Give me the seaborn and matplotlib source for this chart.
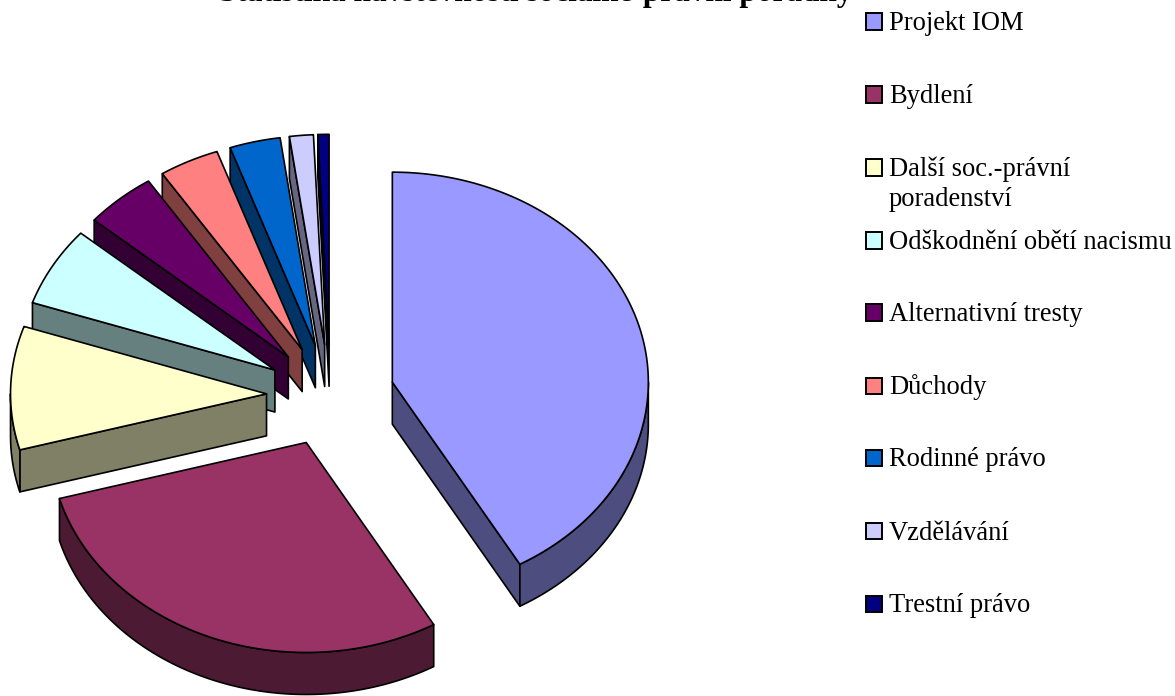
import numpy as np
import matplotlib
matplotlib.use("Agg")
import matplotlib.pyplot as plt
from matplotlib.patches import Polygon, Rectangle
import seaborn as sns

# Data (percent shares)
categories = ["Projekt IOM", "Bydlení", "Další soc.-právní\nporadenství",
              "Odškodnění obětí nacismu", "Alternativní tresty", "Důchody",
              "Rodinné právo", "Vzdělávání", "Trestní právo"]
shares = [41.7, 29.0, 9.5, 6.1, 4.5, 3.8, 3.2, 1.5, 0.7]
top_colors = ["#9999FF", "#993366", "#FFFFCC", "#CCFFFF", "#660066",
              "#FF8080", "#0066CC", "#CCCCFF", "#000080"]
side_colors = ["#4D4D80", "#4D1A33", "#808066", "#668080", "#330033",
               "#804040", "#003366", "#666680", "#000040"]
title_text = "Statistika návštěvnosti sociálně-právní poradny"

sns.set_theme(style="white")
plt.rcParams["font.family"] = ["Liberation Serif", "DejaVu Serif"]
palette = sns.color_palette(top_colors)
side_palette = sns.color_palette(side_colors)

W, H = 1175, 696
fig = plt.figure(figsize=(W / 100, H / 100), dpi=100, facecolor="white")
ax = fig.add_axes([0, 0, 1, 1])
ax.set_xlim(0, W)
ax.set_ylim(H, 0)
ax.axis("off")

# 3-D pie geometry (pixels)
CX, CY = 330.5, 395.3
RX, RY = 256.0, 210.0
EXPLODE_X, EXPLODE_Y = 64.0, 51.0
DEPTH = 42.0
LW = 1.2

values = np.asarray(shares, dtype=float)
edges = np.concatenate([[0.0], np.cumsum(values) / values.sum() * 2 * np.pi])


def rim(apex, t):
    t = np.asarray(t)
    return np.column_stack([apex[0] + RX * np.sin(t), apex[1] - RY * np.cos(t)])


def face(points, color, z):
    ax.add_patch(Polygon(points, closed=True, facecolor=color, edgecolor="black",
                         linewidth=LW, joinstyle="round", zorder=z))


down = np.array([0.0, DEPTH])
z = 1.0
for i in range(len(values) - 1, -1, -1):
    t0, t1 = edges[i], edges[i + 1]
    mid = (t0 + t1) / 2
    apex = np.array([CX + EXPLODE_X * np.sin(mid), CY - EXPLODE_Y * np.cos(mid)])
    for t, visible in ((t0, np.sin(t0) < 0), (t1, np.sin(t1) > 0)):
        if visible:
            p = rim(apex, [t])[0]
            face([apex, p, p + down, apex + down], side_palette[i], z)
            z += 0.1
    a, b = max(t0, np.pi / 2), min(t1, 3 * np.pi / 2)
    if b > a:
        arc = rim(apex, np.linspace(a, b, 120))
        face(np.vstack([arc, arc[::-1] + down]), side_palette[i], z)
        z += 0.1
    arc = rim(apex, np.linspace(t0, t1, 200))
    face(np.vstack([[apex], arc]), palette[i], z)
    z += 0.1

# Title, cut by the top of the image as in the reference
ax.text(536, 1.5, title_text, ha="center", va="baseline", fontsize=22.5,
        fontweight="bold", color="black", clip_on=False)

# Legend
legend_y = [21.5, 94.5, 167.5, 240.5, 312.5, 386, 458, 531, 604]
LINE = 30
for i, (label, y) in enumerate(zip(categories, legend_y)):
    ax.add_patch(Rectangle((865.5, y - 8.5), 16.5, 16.5, facecolor=palette[i],
                           edgecolor="black", linewidth=1.4, zorder=50))
    for j, line in enumerate(label.split("\n")):
        ax.text(889, y + 8.5 + j * LINE, line, ha="left", va="baseline",
                fontsize=19.1, color="black", zorder=51)

fig.savefig("out.png", dpi=100, facecolor="white")
